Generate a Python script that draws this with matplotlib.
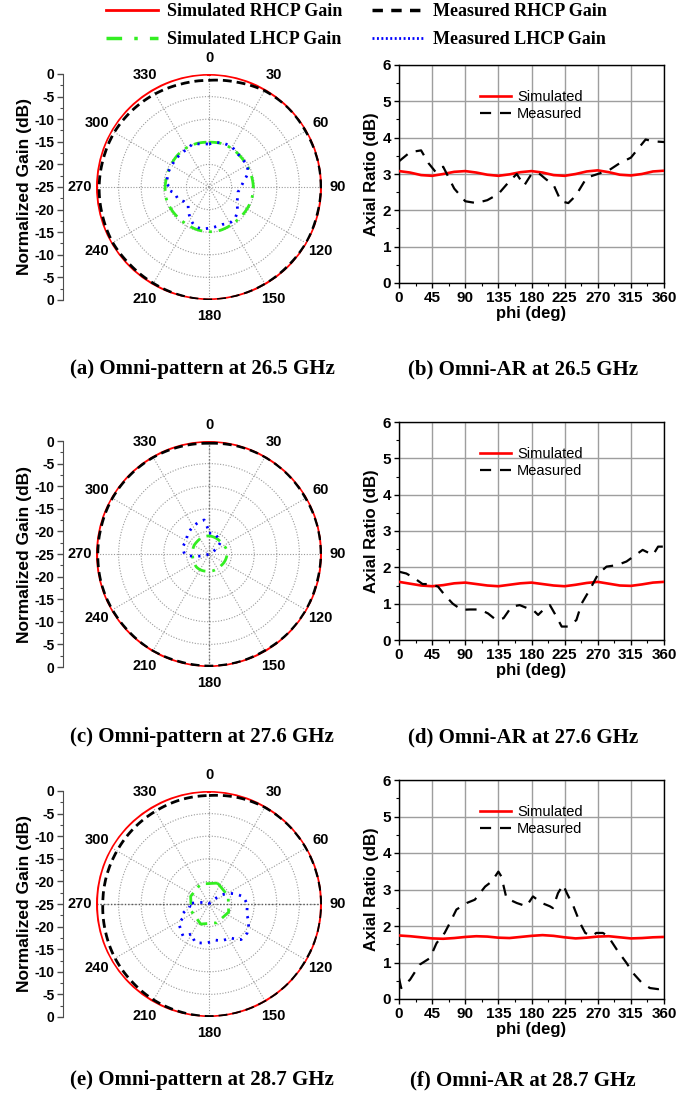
import numpy as np
import matplotlib
matplotlib.use("Agg")
import matplotlib.pyplot as plt
from matplotlib.lines import Line2D
from matplotlib.ticker import MultipleLocator

plt.rcParams['font.family'] = ['Liberation Sans', 'DejaVu Sans']
plt.rcParams['font.weight'] = 'bold'
plt.rcParams['axes.labelweight'] = 'bold'

# ---------------- data: polar patterns (dB) ----------------
theta_sim = [0, 15, 30, 45, 60, 75, 90, 105, 120, 135, 150, 165, 180, 195, 210, 225,
             240, 255, 270, 285, 300, 315, 330, 345, 360]
theta_meas_r = theta_sim

# 26.5 GHz
sim_rhcp_a = [0.0, -0.05, -0.1, -0.05, 0.0, -0.05, -0.1, -0.05, 0.0, -0.05, -0.1, -0.05, 0.0,
              -0.05, -0.1, -0.05, 0.0, -0.05, -0.1, -0.05, 0.0, -0.05, -0.1, -0.05, 0.0]
meas_rhcp_a = [-1.4, -1.0, -0.4, -0.2, -0.3, -0.2, -0.2, -0.3, -0.2, -0.3, -0.2, -0.1, 0.0,
               -0.2, -0.4, -0.5, -0.4, -0.6, -0.7, -0.8, -0.8, -1.0, -1.2, -1.4, -1.4]
sim_lhcp_a = [-15.1, -15.0, -15.1, -15.3, -15.4, -15.3, -15.2, -15.2, -15.3, -15.4, -15.3, -15.1,
              -15.1, -15.2, -15.4, -15.4, -15.3, -15.2, -15.3, -15.4, -15.3, -15.1, -15.0, -15.0, -15.1]
theta_ml_a = [0, 10, 20, 30, 40, 50, 60, 70, 80, 90, 100, 110, 120, 130, 140, 150, 160, 170, 180,
              190, 200, 210, 220, 230, 240, 250, 260, 265, 270, 275, 280, 290, 300, 310, 320, 330,
              340, 350, 360]
meas_lhcp_a = [-15.5, -15.0, -14.8, -14.8, -15.3, -15.4, -15.3, -15.8, -17.2, -18.0, -18.5, -18.3,
               -17.9, -16.8, -16.0, -15.8, -16.2, -16.1, -15.9, -15.6, -15.8, -16.8, -18.0, -19.0,
               -18.6, -17.6, -17.4, -16.2, -16.4, -15.4, -15.6, -15.4, -15.5, -15.4, -15.4, -15.3,
               -14.8, -15.4, -15.5]

# 27.6 GHz
sim_rhcp_c = [0.0, -0.05, -0.1, -0.05, 0.0, -0.05, -0.1, -0.05, 0.0, -0.05, -0.1, -0.05, 0.0,
              -0.05, -0.1, -0.05, 0.0, -0.05, -0.1, -0.05, 0.0, -0.05, -0.1, -0.05, 0.0]
meas_rhcp_c = [-0.5, -0.3, -0.2, -0.2, -0.3, -0.2, -0.2, -0.3, -0.2, -0.2, -0.3, -0.2, -0.2,
               -0.3, -0.2, -0.3, -0.3, -0.3, -0.4, -0.4, -0.3, -0.3, -0.3, -0.4, -0.5]
sim_lhcp_c = [-21.0, -21.1, -21.2, -21.3, -21.2, -21.0, -21.0, -21.1, -21.2, -21.3, -21.3, -21.2,
              -21.2, -21.1, -21.0, -21.0, -21.2, -21.3, -21.4, -21.3, -21.2, -21.2, -21.1, -21.0, -21.0]
theta_ml_c = [0, 15, 30, 45, 55, 70, 90, 120, 150, 180, 210, 240, 250, 257, 262, 266, 270, 285,
              300, 315, 330, 345, 352, 360]
meas_lhcp_c = [-20.4, -20.3, -21.0, -21.5, -23.4, -24.5, -25.0, -25.0, -25.0, -25.0, -25.0, -25.0,
               -24.5, -23.0, -21.5, -20.3, -19.6, -19.0, -19.2, -18.5, -18.0, -17.5, -17.4, -20.4]

# 28.7 GHz
sim_rhcp_e = [0.0, -0.05, -0.1, -0.05, 0.0, -0.05, -0.1, -0.05, 0.0, -0.05, -0.1, -0.05, 0.0,
              -0.05, -0.1, -0.05, 0.0, -0.05, -0.1, -0.05, 0.0, -0.05, -0.1, -0.05, 0.0]
meas_rhcp_e = [-1.0, -0.6, -0.3, -0.2, -0.2, -0.2, -0.1, -0.1, -0.2, -0.1, -0.1, -0.1, -0.1,
               -0.3, -0.5, -0.8, -1.0, -1.3, -1.5, -1.5, -1.5, -1.4, -1.3, -1.1, -1.0]
theta_sl_e = [22.5, 67.5, 112.5, 157.5, 202.5, 247.5, 292.5, 337.5, 382.5]
sim_lhcp_e = [-20.0, -20.4, -20.3, -20.5, -20.2, -20.8, -20.6, -20.2, -20.0]
theta_ml_e = [0, 15, 30, 45, 50, 55, 65, 78, 90, 105, 115, 127, 138, 148, 160, 170, 183, 200, 210,
              219, 230, 237, 242, 250, 258, 265, 270, 275, 285, 300, 330, 360]
meas_lhcp_e = [-25.0, -25.0, -25.0, -24.5, -23.0, -21.4, -19.5, -17.3, -16.6, -16.4, -15.3, -14.4,
               -14.4, -16.2, -16.4, -16.9, -16.4, -16.0, -17.4, -15.9, -16.7, -17.1, -18.5, -18.8,
               -20.5, -20.8, -20.4, -22.0, -24.0, -25.0, -25.0, -25.0]

# ---------------- data: axial ratio (dB) ----------------
phi_sim = theta_sim
ar_sim_b = [3.08, 3.04, 2.97, 2.95, 3.00, 3.06, 3.08, 3.04, 2.98, 2.95, 2.99, 3.05, 3.08, 3.04,
            2.97, 2.95, 3.00, 3.07, 3.10, 3.05, 2.98, 2.96, 3.00, 3.07, 3.09]
phi_meas_b = [0, 15, 30, 40, 50, 60, 75, 90, 105, 120, 135, 150, 160, 170, 180, 190, 200, 210,
              220, 230, 240, 255, 270, 285, 300, 315, 325, 335, 345, 360]
ar_meas_b = [3.35, 3.60, 3.65, 3.30, 3.05, 3.20, 2.60, 2.25, 2.20, 2.28, 2.45, 2.80, 3.00, 2.68,
             3.00, 3.02, 2.85, 2.70, 2.25, 2.20, 2.40, 2.90, 3.00, 3.10, 3.30, 3.45, 3.70, 3.95,
             3.90, 3.88]

ar_sim_d = [1.60, 1.55, 1.50, 1.48, 1.51, 1.56, 1.58, 1.54, 1.50, 1.48, 1.52, 1.56, 1.58, 1.54,
            1.50, 1.48, 1.52, 1.57, 1.60, 1.55, 1.50, 1.49, 1.53, 1.58, 1.60]
phi_meas_d = [0, 10, 21, 32, 42, 53, 62, 73, 85, 96, 110, 121, 132, 142, 153, 164, 175, 182, 189,
              196, 205, 214, 221, 230, 241, 248, 259, 271, 282, 296, 309, 318, 331, 345, 352, 360]
ar_meas_d = [1.88, 1.83, 1.70, 1.54, 1.54, 1.47, 1.24, 1.00, 0.83, 0.84, 0.84, 0.73, 0.55, 0.60,
             0.92, 0.96, 0.87, 0.83, 0.69, 0.83, 0.96, 0.64, 0.37, 0.37, 0.55, 1.00, 1.38, 1.83,
             2.02, 2.06, 2.16, 2.29, 2.48, 2.34, 2.57, 2.57]

ar_sim_f = [1.74, 1.72, 1.69, 1.66, 1.65, 1.67, 1.70, 1.72, 1.71, 1.68, 1.67, 1.70, 1.73, 1.75,
            1.73, 1.69, 1.66, 1.68, 1.71, 1.72, 1.69, 1.66, 1.67, 1.69, 1.70]
phi_meas_f = [0, 3, 15, 28, 42, 51, 62, 69, 78, 92, 103, 117, 126, 135, 139, 146, 160, 173, 182,
              194, 205, 209, 216, 223, 228, 237, 246, 253, 262, 268, 277, 284, 296, 309, 318, 330,
              341, 352, 360]
ar_meas_f = [0.57, 0.30, 0.53, 0.94, 1.12, 1.53, 1.81, 2.08, 2.45, 2.63, 2.72, 3.08, 3.22, 3.49,
             3.36, 2.76, 2.63, 2.54, 2.81, 2.63, 2.54, 2.49, 2.90, 3.13, 2.90, 2.54, 2.08, 1.81,
             1.72, 1.81, 1.81, 1.72, 1.35, 0.99, 0.71, 0.44, 0.30, 0.27, 0.30]

angle_labels = ['0', '30', '60', '90', '120', '150', '180', '210', '240', '270', '300', '330']
captions_left = ['(a) Omni-pattern at 26.5 GHz', '(c) Omni-pattern at 27.6 GHz',
                 '(e) Omni-pattern at 28.7 GHz']
captions_right = ['(b) Omni-AR at 26.5 GHz', '(d) Omni-AR at 27.6 GHz', '(f) Omni-AR at 28.7 GHz']

# ---------------- layout ----------------
W, H = 699, 1096
fig = plt.figure(figsize=(W / 100, H / 100), dpi=100)


def rect(l, t, r, b):
    return [l / W, 1 - b / H, (r - l) / W, (b - t) / H]


def arc(line, steps=12):
    # draw segments as arcs in polar coordinates
    line.get_path()._interpolation_steps = steps
    return line


RED = '#ff0000'
GREEN = '#33ee22'
BLUE = '#0000ff'
black_dash = (0, (3.2, 1.8))
green_dashdot = (0, (4.5, 2.5, 1.0, 2.5))
blue_dot = (0, (0.8, 2.2))

polar_sets = [
    (sim_rhcp_a, meas_rhcp_a, theta_sim, sim_lhcp_a, theta_ml_a, meas_lhcp_a, None, True),
    (sim_rhcp_c, meas_rhcp_c, theta_sim, sim_lhcp_c, theta_ml_c, meas_lhcp_c, 'v', True),
    (sim_rhcp_e, meas_rhcp_e, theta_sl_e, sim_lhcp_e, theta_ml_e, meas_lhcp_e, 'h', False),
]
polar_centers = [187, 554, 904]
R = 113

for (srh, mrh, tsl, sl, tml, ml, emph, smooth), cy in zip(polar_sets, polar_centers):
    ax = fig.add_axes(rect(209 - R, cy - R, 209 + R, cy + R), projection='polar')
    ax.set_theta_zero_location('N')
    ax.set_theta_direction(-1)
    arc(ax.plot(np.deg2rad(theta_sim), srh, color=RED, lw=2.3, zorder=3)[0])
    arc(ax.plot(np.deg2rad(theta_meas_r), mrh, color='black', lw=2.0, ls=black_dash, zorder=4)[0])
    gl = ax.plot(np.deg2rad(tsl), sl, color=GREEN, lw=2.0, ls=green_dashdot, zorder=5)[0]
    if smooth:
        arc(gl)
    arc(ax.plot(np.deg2rad(tml), ml, color=BLUE, lw=2.0, ls=blue_dot, zorder=6)[0], 6)
    ax.set_ylim(-25, 0)
    ax.set_yticks([-20, -15, -10, -5])
    ax.set_yticklabels([])
    ax.set_thetagrids(np.arange(0, 360, 30), angle_labels)
    ax.tick_params(axis='x', length=0, pad=4.5, labelsize=10.5)
    ax.tick_params(axis='y', length=0)
    ax.grid(True, color='0.6', ls=(0, (1, 1.5)), lw=0.8)
    ax.spines['polar'].set_visible(False)
    ax.set_facecolor('none')
    if emph == 'v':
        ax.axvline(0, color='0.45', ls=(0, (1, 1.5)), lw=1.0)
        ax.axvline(np.pi, color='0.45', ls=(0, (1, 1.5)), lw=1.0)
    elif emph == 'h':
        ax.axvline(np.pi / 2, color='0.35', ls=(0, (1, 1.5)), lw=1.0)
        ax.axvline(3 * np.pi / 2, color='0.35', ls=(0, (1, 1.5)), lw=1.0)

    # vertical normalized gain scale
    lax = fig.add_axes(rect(63, cy - R, 64, cy + R))
    for s in ['right', 'top', 'bottom']:
        lax.spines[s].set_visible(False)
    lax.spines['left'].set_color('0.3')
    lax.set_facecolor('none')
    lax.set_xticks([])
    lax.set_ylim(-25, 25)
    ticks = np.arange(-25, 26, 5)
    lax.set_yticks(ticks)
    lax.set_yticklabels([str(int(abs(v) - 25)) if v != 25 and v != -25 else '0' for v in ticks])
    lax.yaxis.set_minor_locator(MultipleLocator(2.5))
    lax.tick_params(axis='y', which='major', direction='out', length=4, width=1, pad=2,
                    labelsize=10, color='0.3')
    lax.tick_params(axis='y', which='minor', direction='out', length=2, width=0.8, color='0.3')
    lax.set_ylabel('Normalized Gain (dB)', fontsize=12.5, labelpad=2)

ar_sets = [
    (ar_sim_b, phi_meas_b, ar_meas_b, 65, 283),
    (ar_sim_d, phi_meas_d, ar_meas_d, 422, 640),
    (ar_sim_f, phi_meas_f, ar_meas_f, 780, 999),
]
for srh, pm, am, t, b in ar_sets:
    ax = fig.add_axes(rect(399, t, 664, b))
    ax.plot(phi_sim, srh, color=RED, lw=1.9, label='Simulated', zorder=3)
    ax.plot(pm, am, color='black', lw=1.6, ls=(0, (5, 4)), label='Measured', zorder=4)
    ax.set_xlim(0, 360)
    ax.set_ylim(0, 6)
    ax.set_xticks(np.arange(0, 361, 45))
    ax.set_yticks(np.arange(0, 7, 1))
    ax.xaxis.set_minor_locator(MultipleLocator(22.5))
    ax.yaxis.set_minor_locator(MultipleLocator(0.5))
    ax.grid(True, which='major', color='0.62', lw=1.0)
    ax.tick_params(which='major', direction='out', length=3.5, width=1, labelsize=11, pad=2)
    ax.tick_params(which='minor', direction='out', length=2, width=0.8)
    for s in ax.spines.values():
        s.set_linewidth(1.0)
    ax.set_ylabel('Axial Ratio (dB)', fontsize=12, labelpad=3)
    ax.set_xlabel('phi (deg)', fontsize=12, labelpad=1)
    ax.legend(loc='upper center', bbox_to_anchor=(0.5, 0.945), frameon=False,
              prop={'family': ['Liberation Sans', 'DejaVu Sans'], 'weight': 'normal',
                    'size': 10.5},
              handlelength=2.1, handletextpad=0.4, labelspacing=0.2)

# top legend
serif = {'family': ['Liberation Serif', 'DejaVu Serif'], 'weight': 'bold', 'size': 13}
handles = [
    Line2D([], [], color=RED, lw=2.0),
    Line2D([], [], color=GREEN, lw=2.5, ls=(0, (4.5, 3.5, 1.0, 3.5))),
    Line2D([], [], color='black', lw=2.5, ls=(0, (3.0, 2.4))),
    Line2D([], [], color=BLUE, lw=2.0, ls=(0, (0.7, 0.9))),
]
labels = ['Simulated RHCP Gain', 'Simulated LHCP Gain', 'Measured RHCP Gain', 'Measured LHCP Gain']
fig.legend(handles, labels, loc='upper center', bbox_to_anchor=(0.51, 1.012), ncol=2,
           frameon=False, prop=serif, handlelength=2.9, handletextpad=0.5,
           columnspacing=1.6, labelspacing=0.6)

cap = {'family': ['Liberation Serif', 'DejaVu Serif'], 'weight': 'bold', 'size': 15}
for txt, y in zip(captions_left, [369, 737, 1080]):
    fig.text(202 / W, 1 - y / H, txt, ha='center', va='center', fontdict=cap)
for txt, y in zip(captions_right, [369, 737, 1080]):
    fig.text(523 / W, 1 - y / H, txt, ha='center', va='center', fontdict=cap)

fig.savefig('out.png', dpi=100)
